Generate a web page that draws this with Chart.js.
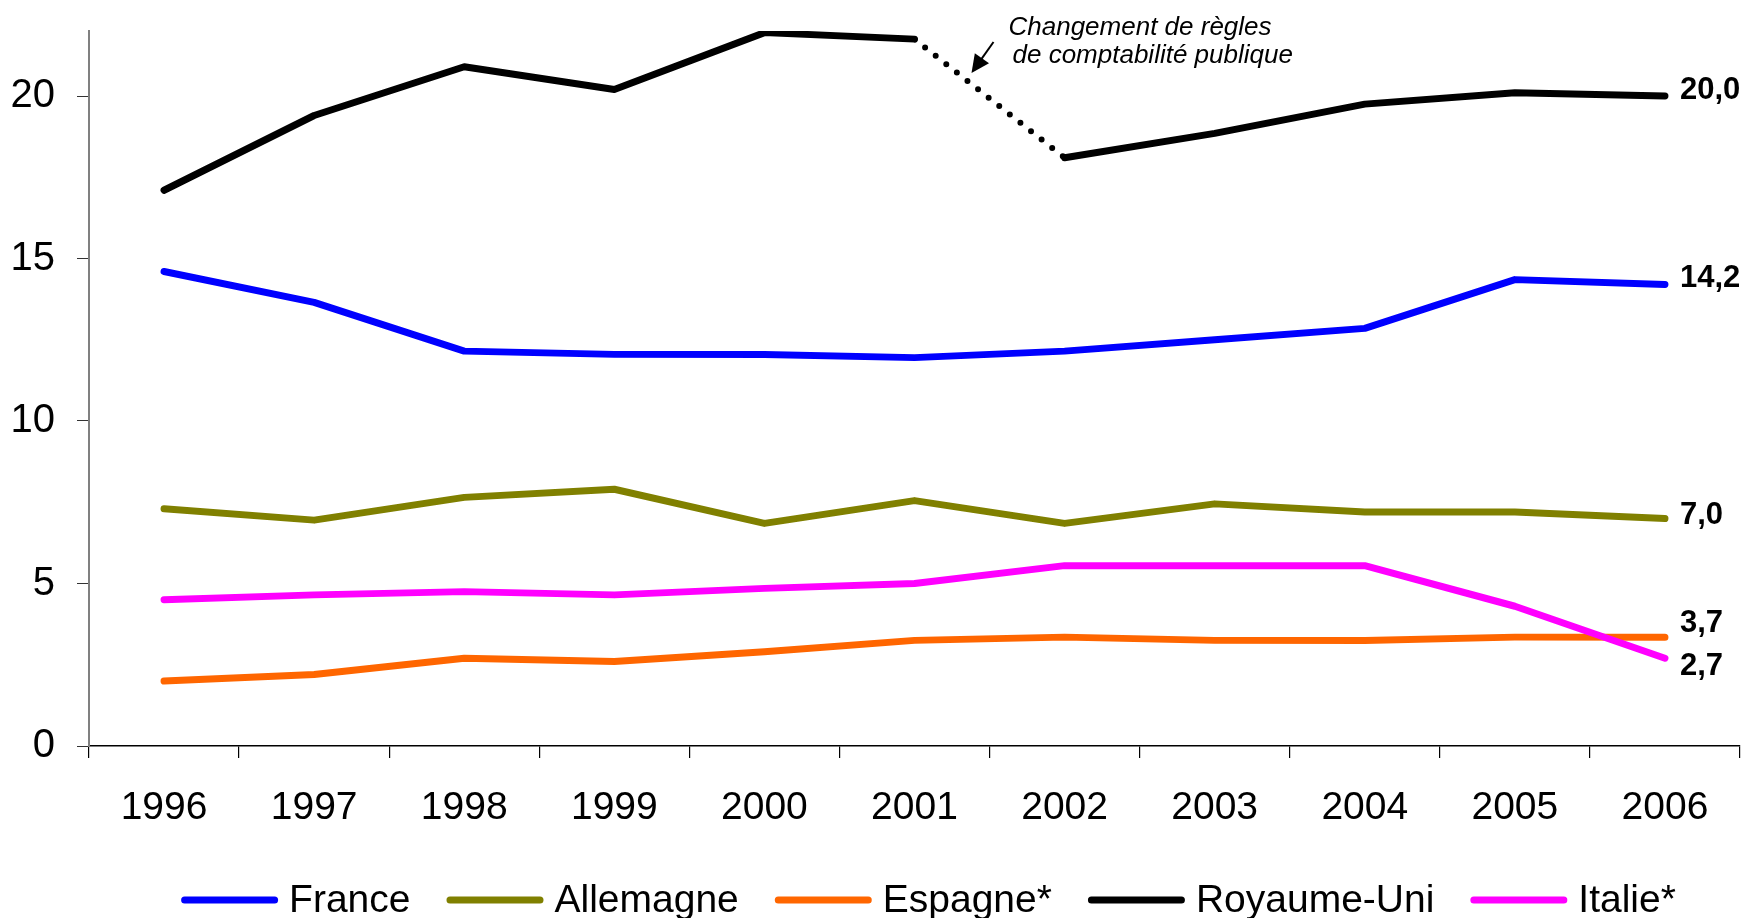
<!DOCTYPE html>
<html>
<head>
<meta charset="utf-8">
<script src="https://cdn.jsdelivr.net/npm/chart.js@4/dist/chart.umd.min.js"></script>
<style>
  html, body { margin: 0; padding: 0; background: #fff; }
  #wrap { width: 1746px; height: 918px; }
</style>
</head>
<body>
<div id="wrap"><canvas id="chart" width="1746" height="918"></canvas></div>
<script>
// values
const years = ['1996', '1997', '1998', '1999', '2000', '2001', '2002', '2003', '2004', '2005', '2006']
const france = [14.6, 13.65, 12.15, 12.05, 12.05, 11.95, 12.15, 12.5, 12.85, 14.35, 14.2]
const allemagne = [7.3, 6.95, 7.65, 7.9, 6.85, 7.55, 6.85, 7.45, 7.2, 7.2, 7.0]
const espagne = [2.0, 2.2, 2.7, 2.6, 2.9, 3.25, 3.35, 3.25, 3.25, 3.35, 3.35]
const royaumeUni = [17.1, 19.4, 20.9, 20.2, 21.95, 21.75, 18.1, 18.85, 19.75, 20.1, 20.0]
const italie = [4.5, 4.65, 4.75, 4.65, 4.85, 5.0, 5.55, 5.55, 5.55, 4.3, 2.7]
const endLabels = ['14,2', '7,0', '3,7', '20,0', '2,7']
const endLabelShift = [-6, -3, -14, -6, 8]
const yTicks = [0, 5, 10, 15, 20]
const noteLines = ['Changement de règles', 'de comptabilité publique']
const ruBreakIndex = 5 // 2001 -> 2002 drawn dotted

const FONT = '"Liberation Sans", Arial, Helvetica, sans-serif'

function line (label, data, color, order) {
  return {
    label: label,
    data: data,
    borderColor: color,
    backgroundColor: color,
    borderWidth: 7,
    borderCapStyle: 'round',
    borderJoinStyle: 'round',
    pointRadius: 0,
    tension: 0,
    order: order
  }
}

const ru = line('Royaume-Uni', royaumeUni, '#000000', 1)
ru.segment = {
  borderDash: ctx => ctx.p0DataIndex === ruBreakIndex ? [0, 13.5] : undefined,
  borderWidth: ctx => ctx.p0DataIndex === ruBreakIndex ? 6 : undefined
}

// end-of-line values, note and legend
const extras = {
  id: 'extras',
  afterDraw (chart) {
    const ctx = chart.ctx
    const area = chart.chartArea
    const xs = chart.scales.x
    ctx.save()

    // values at the right end
    ctx.fillStyle = '#000'
    ctx.font = 'bold 31px ' + FONT
    ctx.textAlign = 'left'
    ctx.textBaseline = 'middle'
    chart.data.datasets.forEach((ds, i) => {
      const pt = chart.getDatasetMeta(i).data[ds.data.length - 1]
      ctx.fillText(endLabels[i], pt.x + 15, pt.y + endLabelShift[i])
    })

    // note about the accounting change
    const x0 = xs.getPixelForValue(ruBreakIndex)
    ctx.font = 'italic 26px ' + FONT
    ctx.textBaseline = 'alphabetic'
    ctx.fillText(noteLines[0], x0 + 94, area.top + 4)
    ctx.fillText(noteLines[1], x0 + 98, area.top + 32)
    const ax = x0 + 79, ay = area.top + 11
    const bx = x0 + 57, by = area.top + 42
    const ang = Math.atan2(by - ay, bx - ax)
    ctx.strokeStyle = '#000'
    ctx.lineWidth = 2
    ctx.beginPath()
    ctx.moveTo(ax, ay)
    ctx.lineTo(bx - 14 * Math.cos(ang), by - 14 * Math.sin(ang))
    ctx.stroke()
    ctx.beginPath()
    ctx.moveTo(bx, by)
    ctx.lineTo(bx - 20 * Math.cos(ang - 0.45), by - 20 * Math.sin(ang - 0.45))
    ctx.lineTo(bx - 20 * Math.cos(ang + 0.45), by - 20 * Math.sin(ang + 0.45))
    ctx.closePath()
    ctx.fill()

    // legend
    ctx.font = '39px ' + FONT
    ctx.textBaseline = 'middle'
    const sw = 90, cap = 3.5, gap = 11, sep = 36
    const items = chart.data.datasets.map(ds => ({
      ds: ds, w: ctx.measureText(ds.label).width
    }))
    let total = 0
    items.forEach((it, i) => {
      total += sw + 2 * cap + gap + it.w + (i < items.length - 1 ? sep : 0)
    })
    let x = (area.left + area.right) / 2 + 14 - total / 2
    const ly = chart.height - 18
    items.forEach(it => {
      ctx.strokeStyle = it.ds.borderColor
      ctx.lineWidth = 7
      ctx.lineCap = 'round'
      ctx.beginPath()
      ctx.moveTo(x + cap, ly)
      ctx.lineTo(x + cap + sw, ly)
      ctx.stroke()
      ctx.fillStyle = '#000'
      ctx.fillText(it.ds.label, x + sw + 2 * cap + gap, ly + 1)
      x += sw + 2 * cap + gap + it.w + sep
    })
    ctx.restore()
  }
}

const chart = new Chart(document.getElementById('chart').getContext('2d'), {
  type: 'line',
  data: {
    labels: years,
    datasets: [
      line('France', france, '#0000FF', 1),
      line('Allemagne', allemagne, '#808000', 1),
      line('Espagne*', espagne, '#FF6600', 1),
      ru,
      line('Italie*', italie, '#FF00FF', 0)
    ]
  },
  options: {
    responsive: false,
    animation: false,
    layout: { padding: { top: 31, right: 6, left: 0, bottom: 0 } },
    plugins: {
      legend: { display: false },
      tooltip: { enabled: false }
    },
    scales: {
      x: {
        offset: true,
        border: { color: '#000', width: 1.5 },
        grid: { offset: true, drawOnChartArea: false, tickLength: 12, color: '#000', lineWidth: 1.2 },
        ticks: { color: '#000', padding: 27, maxRotation: 0, font: { family: FONT, size: 39 } },
        afterFit: scale => {
          scale.height = 172
          scale.paddingLeft = 0
          scale.paddingRight = 0
        }
      },
      y: {
        min: 0,
        max: 22,
        border: { color: '#808080', width: 2 },
        grid: { drawOnChartArea: false, tickLength: 12, color: '#333', lineWidth: 1 },
        afterBuildTicks: scale => { scale.ticks = yTicks.map(v => ({ value: v })) },
        ticks: { color: '#000', padding: 22, font: { family: FONT, size: 40 } },
        afterFit: scale => {
          scale.width = 89
          scale.paddingTop = 0
          scale.paddingBottom = 0
        }
      }
    }
  },
  plugins: [extras]
})
</script>
</body>
</html>
